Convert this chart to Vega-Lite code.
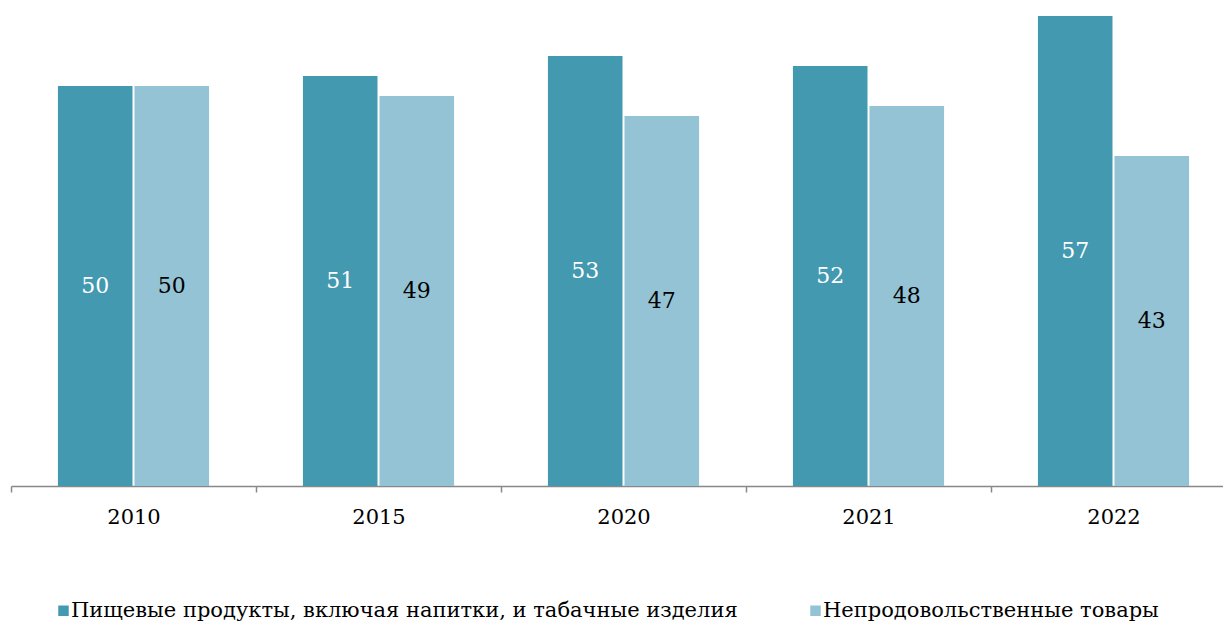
{
  "$schema": "https://vega.github.io/schema/vega-lite/v6.json",
  "width": 1225,
  "height": 480,
  "autosize": {"type": "none"},
  "padding": {"left": 11, "top": 6, "right": 0, "bottom": 137},
  "background": "white",
  "config": {"view": {"stroke": null}, "font": "DejaVu Serif"},
  "data": {"values": [
    {"year": "2010", "series": "Пищевые продукты, включая напитки, и табачные изделия", "value": 50},
    {"year": "2010", "series": "Непродовольственные товары", "value": 50},
    {"year": "2015", "series": "Пищевые продукты, включая напитки, и табачные изделия", "value": 51},
    {"year": "2015", "series": "Непродовольственные товары", "value": 49},
    {"year": "2020", "series": "Пищевые продукты, включая напитки, и табачные изделия", "value": 53},
    {"year": "2020", "series": "Непродовольственные товары", "value": 47},
    {"year": "2021", "series": "Пищевые продукты, включая напитки, и табачные изделия", "value": 52},
    {"year": "2021", "series": "Непродовольственные товары", "value": 48},
    {"year": "2022", "series": "Пищевые продукты, включая напитки, и табачные изделия", "value": 57},
    {"year": "2022", "series": "Непродовольственные товары", "value": 43}
  ]},
  "encoding": {
    "x": {"field": "year", "type": "nominal", "title": null,
      "scale": {"paddingInner": 0, "paddingOuter": 0},
      "axis": {"labelAngle": 0, "labelFont": "DejaVu Serif", "labelFontSize": 21, "labelColor": "black",
        "labelPadding": 14, "tickBand": "extent", "tickSize": 6, "tickColor": "#888888", "domainColor": "#888888", "domainWidth": 1.5, "tickWidth": 1.5}},
    "xOffset": {"field": "series", "type": "nominal",
      "sort": ["Пищевые продукты, включая напитки, и табачные изделия", "Непродовольственные товары"],
      "scale": {"paddingInner": 0.026, "paddingOuter": 0.613}}
  },
  "layer": [
    {
      "mark": {"type": "bar", "clip": true},
      "encoding": {
        "y": {"field": "value", "type": "quantitative", "scale": {"domain": [10, 58], "zero": false, "nice": false}, "axis": null},
        "y2": {"datum": 10},
        "color": {"field": "series", "type": "nominal",
          "sort": ["Пищевые продукты, включая напитки, и табачные изделия", "Непродовольственные товары"],
          "scale": {"domain": ["Пищевые продукты, включая напитки, и табачные изделия", "Непродовольственные товары"], "range": ["#4399B0", "#93C3D4"]},
          "legend": {"title": null, "orient": "none", "legendX": 42, "legendY": 594, "direction": "horizontal",
            "symbolType": "square", "symbolSize": 110, "symbolStrokeWidth": 0,
            "labelFont": "DejaVu Serif", "labelFontSize": 21, "labelColor": "black", "labelLimit": 0,
            "columnPadding": 67, "labelOffset": -3}}
      }
    },
    {
      "transform": [{"calculate": "(datum.value + 10) / 2", "as": "mid"}],
      "mark": {"type": "text", "font": "DejaVu Serif", "fontSize": 22, "baseline": "middle", "align": "center"},
      "encoding": {
        "y": {"field": "mid", "type": "quantitative", "scale": {"domain": [10, 58], "zero": false, "nice": false}, "axis": null},
        "text": {"field": "value", "type": "quantitative"},
        "fill": {"field": "series", "type": "nominal",
          "scale": {"domain": ["Пищевые продукты, включая напитки, и табачные изделия", "Непродовольственные товары"], "range": ["white", "black"]},
          "legend": null}
      }
    }
  ]
}
